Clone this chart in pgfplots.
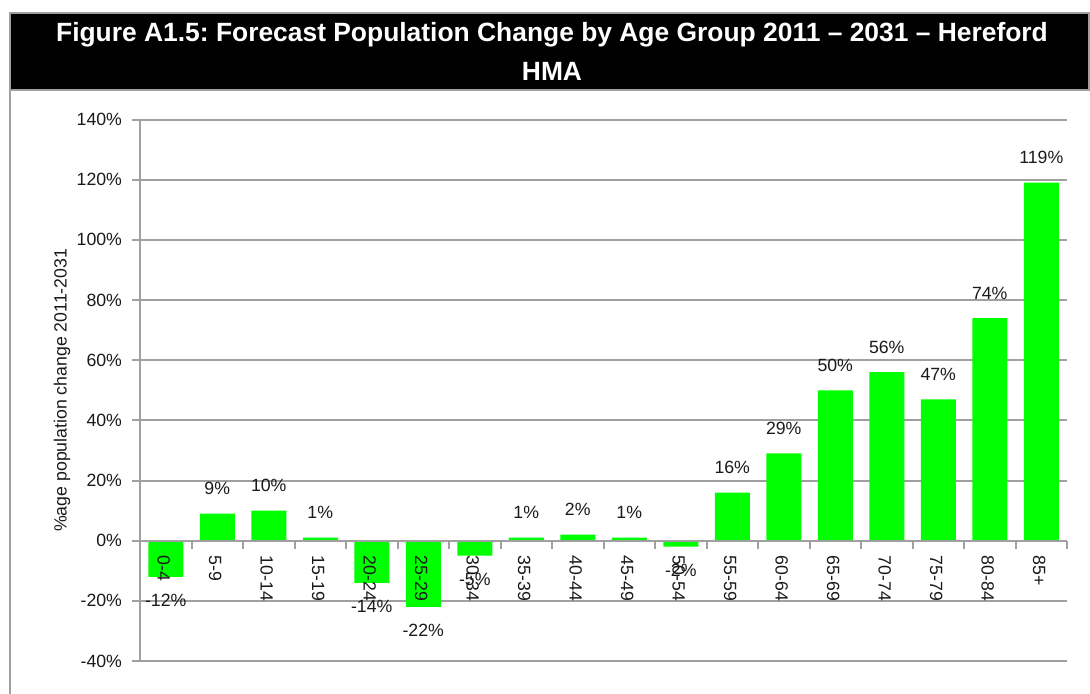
\documentclass[border=0pt]{standalone}
\usepackage{fontspec}
\setmainfont{Liberation Sans}
\usepackage{pgfplots}
\pgfplotsset{compat=1.18}
\definecolor{barGreen}{HTML}{00FF00}
\definecolor{frameGrey}{HTML}{A0A0A0}
\definecolor{txt}{HTML}{1A1A1A}
\frenchspacing
\pgfplotsset{
    common/.style={
        scale only axis,
        width=463.5pt, height=270.75pt,
        at={(0,0)}, anchor=south west,
        xmin=-0.5, xmax=17.5, ymin=-40, ymax=140,
        axis line style={frameGrey, line width=1pt},
        tick align=outside, major tick length=4pt,
        tick style={frameGrey, line width=1pt},
        tick label style={font=\fontsize{8.85}{10.6}\selectfont, text=txt},
        /pgf/number format/assume math mode=true,
    },
}

\begin{document}
\begin{tikzpicture}
% page = 1090 x 693 px at 0.5pt per px, origin at the axis' lower-left corner
\path[use as bounding box] (-70pt,-16pt) rectangle (475pt,330.5pt);
\fill[white] (-70pt,-16pt) rectangle (475pt,330.5pt);
\draw[frameGrey, line width=1pt] (-65pt,-20pt) -- (-65pt,285.5pt);
\filldraw[fill=black, draw=frameGrey, line width=1pt] (-65pt,285.5pt) rectangle (474.5pt,324pt);
\node[white, font=\fontsize{13.2}{19.5}\selectfont\bfseries, align=center]
  at (206pt,305pt) {Figure A1.5: Forecast Population Change by Age Group 2011 – 2031 – Hereford\\HMA};

% bars, grid and y axis
\begin{axis}[
    common,
    ybar, bar width=17.5pt,
    axis x line=none, axis y line*=left,
    ymajorgrids, grid style={frameGrey, line width=1pt},
    ytick={-40,-20,...,140},
    yticklabel={\pgfmathprintnumber{\tick}\%},
    yticklabel style={xshift=-1.5pt},
    ylabel={\%age population change 2011-2031},
    every axis y label/.style={at={(axis description cs:-0.0841,0.5)}, rotate=90, anchor=center,
        font=\fontsize{8.85}{10.6}\selectfont, text=txt},
    nodes near coords={\pgfmathprintnumber{\pgfplotspointmeta}\%},
    visualization depends on=y \as \rawy,
    every node near coord/.append style={anchor=center, font=\fontsize{8.85}{10.6}\selectfont, text=txt,
        yshift={ifthenelse(\rawy<0,-12,12.5)}},
]
\addplot[fill=barGreen, draw=none] coordinates {
    (0,-12) (1,9) (2,10) (3,1) (4,-14) (5,-22) (6,-5) (7,1) (8,2)
    (9,1) (10,-2) (11,16) (12,29) (13,50) (14,56) (15,47) (16,74) (17,119)
};
\end{axis}

% zero line with category labels, drawn over the bars
\begin{axis}[
    common,
    axis x line*=middle, axis y line=none,
    ytick=\empty,
    xtick={-0.5,0.5,...,17.5},
    x tick label as interval,
    xticklabels={0-4,5-9,10-14,15-19,20-24,25-29,30-34,35-39,40-44,45-49,50-54,55-59,60-64,65-69,70-74,75-79,80-84,85+},
    xticklabel style={rotate=-90, anchor=west, yshift=-1pt},
]
\addplot[draw=none] coordinates {(0,0)};
\end{axis}
\end{tikzpicture}
\end{document}
